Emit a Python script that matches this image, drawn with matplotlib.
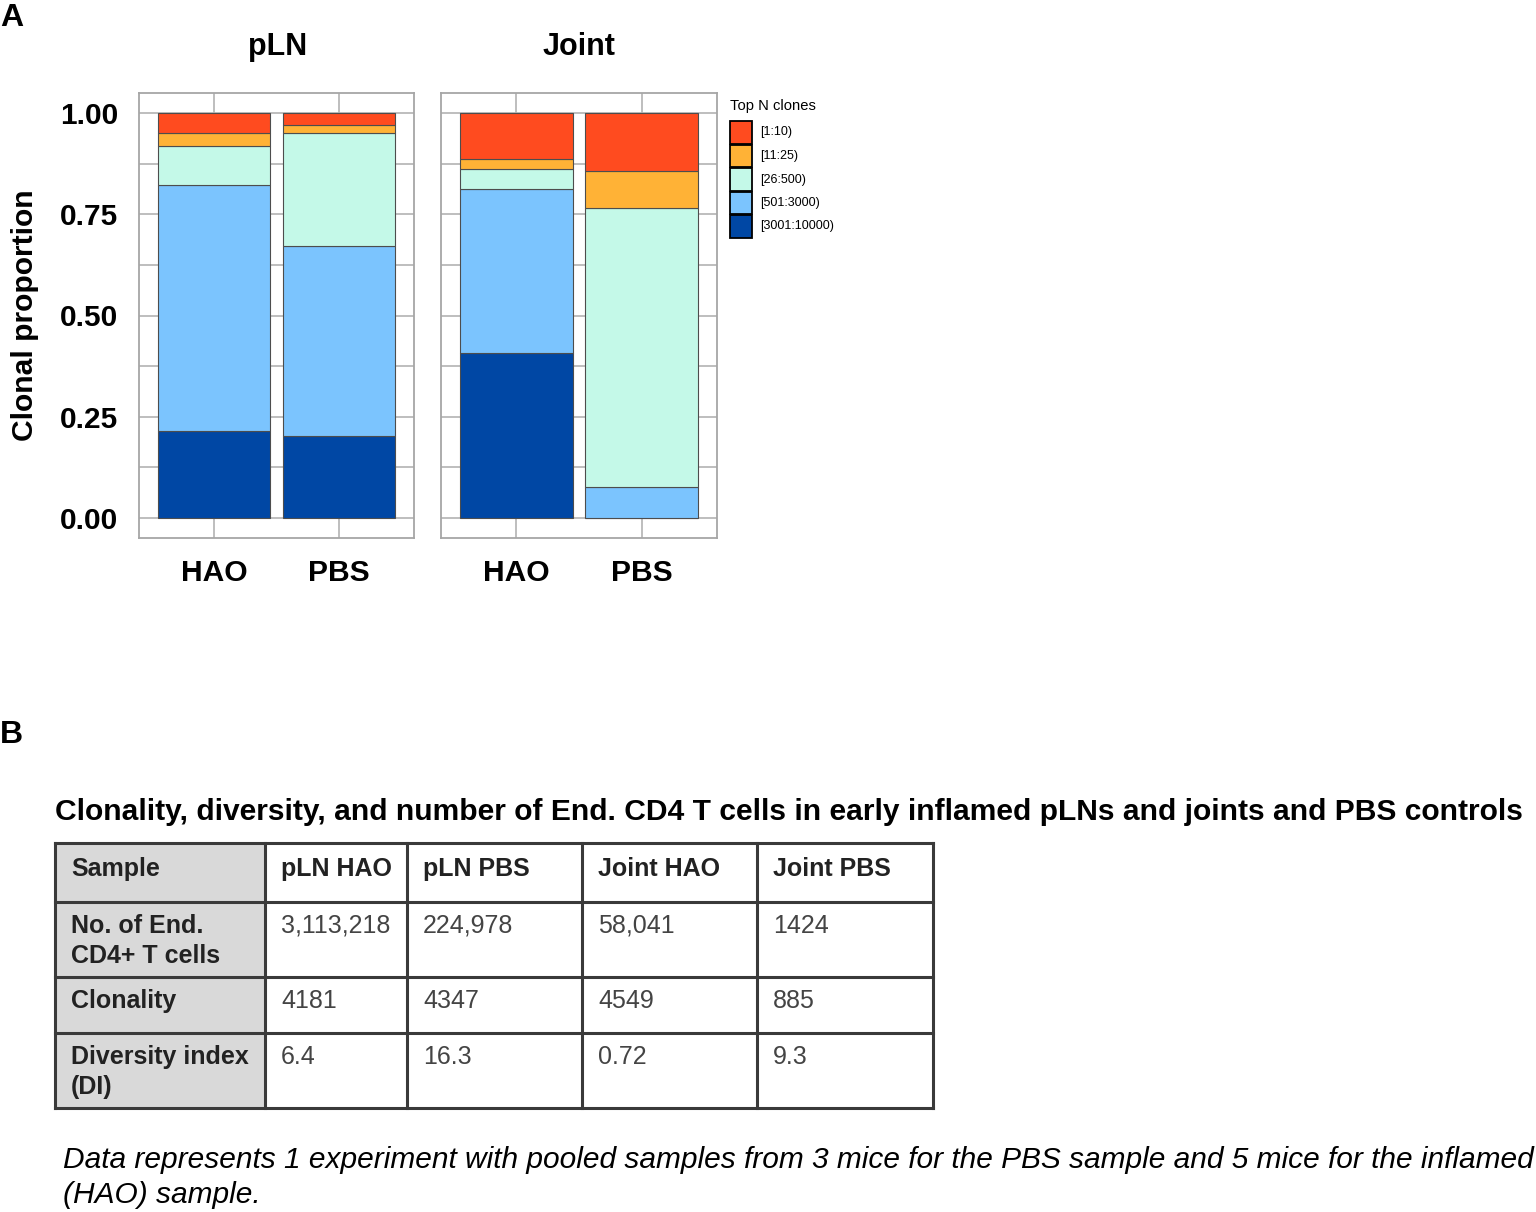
import matplotlib.pyplot as plt
from matplotlib.patches import Rectangle

plt.rcParams['font.family'] = ['Liberation Sans', 'DejaVu Sans']

W, H = 1536, 1212

tissues = ['pLN', 'Joint']
samples = ['HAO', 'PBS']
clone_groups = ['[1:10)', '[11:25)', '[26:500)', '[501:3000)', '[3001:10000)']
group_colors = ['#FF4B1F', '#FFB236', '#C4F9E8', '#7BC4FE', '#0047A4']

# clonal proportion per group, listed top ([1:10)) to bottom ([3001:10000))
pln_hao = [0.050, 0.031, 0.096, 0.608, 0.215]
pln_pbs = [0.030, 0.020, 0.277, 0.472, 0.201]
joint_hao = [0.112, 0.025, 0.050, 0.405, 0.408]
joint_pbs = [0.142, 0.093, 0.688, 0.077, 0.000]
props = {'pLN': [pln_hao, pln_pbs], 'Joint': [joint_hao, joint_pbs]}

table_cols = ['Sample', 'pLN HAO', 'pLN PBS', 'Joint HAO', 'Joint PBS']
row_labels = ['No. of End.\nCD4+ T cells', 'Clonality', 'Diversity index\n(DI)']
n_cells = ['3,113,218', '224,978', '58,041', '1424']
clonality = ['4181', '4347', '4549', '885']
diversity = ['6.4', '16.3', '0.72', '9.3']

table_title = ('Clonality, diversity, and number of End. CD4 T cells in early '
               'inflamed pLNs and joints and PBS controls')
footnote = ('Data represents 1 experiment with pooled samples from 3 mice for the '
            'PBS sample and 5 mice for the inflamed\n(HAO) sample.')


def rect(x0, y0, x1, y1):
    return [x0 / W, 1 - y1 / H, (x1 - x0) / W, (y1 - y0) / H]


fig = plt.figure(figsize=(W / 100, H / 100), dpi=100)

# overlay in pixel coordinates for free text, legend and table
ov = fig.add_axes([0, 0, 1, 1])
ov.set_xlim(0, W)
ov.set_ylim(H, 0)
ov.axis('off')

panel_x = [(139, 414), (441, 717)]
title_x = [278, 579]
for k, tissue in enumerate(tissues):
    x0, x1 = panel_x[k]
    ax = fig.add_axes(rect(x0, 93, x1, 538))
    for i, vals in enumerate(props[tissue]):
        bottom = 0
        for g in range(len(clone_groups) - 1, -1, -1):
            ax.bar(i + 1, vals[g], bottom=bottom, width=0.9, color=group_colors[g],
                   edgecolor='#4d4d4d', linewidth=0.8, zorder=3)
            bottom += vals[g]
    ax.set_xlim(0.4, 2.6)
    ax.set_ylim(-0.05, 1.05)
    ax.set_xticks([1, 2])
    ax.set_xticklabels(samples, fontsize=21.6, fontweight='bold')
    ax.set_yticks([0, 0.25, 0.5, 0.75, 1.0])
    ax.set_yticks([0.125, 0.375, 0.625, 0.875], minor=True)
    ax.grid(True, which='both', color='#b3b3b3', linewidth=1.2, zorder=0)
    ax.set_axisbelow(True)
    ax.tick_params(axis='both', which='both', length=0)
    ax.tick_params(axis='x', pad=15)
    ax.tick_params(axis='y', pad=15)
    if k == 0:
        ax.set_yticklabels(['0.00', '0.25', '0.50', '0.75', '1.00'],
                           fontsize=21.5, fontweight='bold')
    else:
        ax.set_yticklabels([])
    for sp in ax.spines.values():
        sp.set_color('#a6a6a6')
        sp.set_linewidth(1.3)
    ov.text(title_x[k], 47, tissue, fontsize=22, fontweight='bold',
            ha='center', va='center')

ov.text(25, 315, 'Clonal proportion', fontsize=21.6, fontweight='bold',
        rotation=90, ha='center', va='center')
ov.text(0, 18, 'A', fontsize=23, fontweight='bold', ha='left', va='center')
ov.text(0, 735, 'B', fontsize=23, fontweight='bold', ha='left', va='center')

# legend
ov.text(730, 106, 'Top N clones', fontsize=10.6, ha='left', va='center')
for g, label in enumerate(clone_groups):
    y = 121 + 23.5 * g
    ov.add_patch(Rectangle((730, y), 22, 22.5, facecolor=group_colors[g],
                           edgecolor='black', linewidth=1.3))
    ov.text(760, y + 11.5, label, fontsize=9, ha='left', va='center')

# table
ov.text(55, 812, table_title, fontsize=21.6, fontweight='bold', ha='left', va='center')
col_edges = [55, 265, 407, 582, 757, 933]
row_edges = [843, 902, 977, 1033, 1108]
ov.add_patch(Rectangle((col_edges[0], row_edges[0]), col_edges[1] - col_edges[0],
                       row_edges[-1] - row_edges[0], facecolor='#d9d9d9',
                       edgecolor='none'))
for xe in col_edges:
    ov.plot([xe, xe], [row_edges[0], row_edges[-1]], color='#3a3a3a', lw=2.2,
            solid_capstyle='projecting')
for ye in row_edges:
    ov.plot([col_edges[0], col_edges[-1]], [ye, ye], color='#3a3a3a', lw=2.2,
            solid_capstyle='projecting')

rows = [table_cols, [row_labels[0]] + n_cells, [row_labels[1]] + clonality,
        [row_labels[2]] + diversity]
for r, row in enumerate(rows):
    y0 = row_edges[r] + (26 if r == 0 else 24)
    for c, cell in enumerate(row):
        bold = r == 0 or c == 0
        for j, line in enumerate(cell.split('\n')):
            ov.text(col_edges[c] + 16, y0 + 30 * j, line, fontsize=18,
                    fontweight='bold' if bold else 'normal',
                    color='#222222' if bold else '#444444', ha='left', va='center')

lines = footnote.split('\n')
for j, line in enumerate(lines):
    ov.text(63, 1160 + 35 * j, line, fontsize=21.5, style='italic',
            ha='left', va='center')

fig.savefig('out.png', dpi=100)
